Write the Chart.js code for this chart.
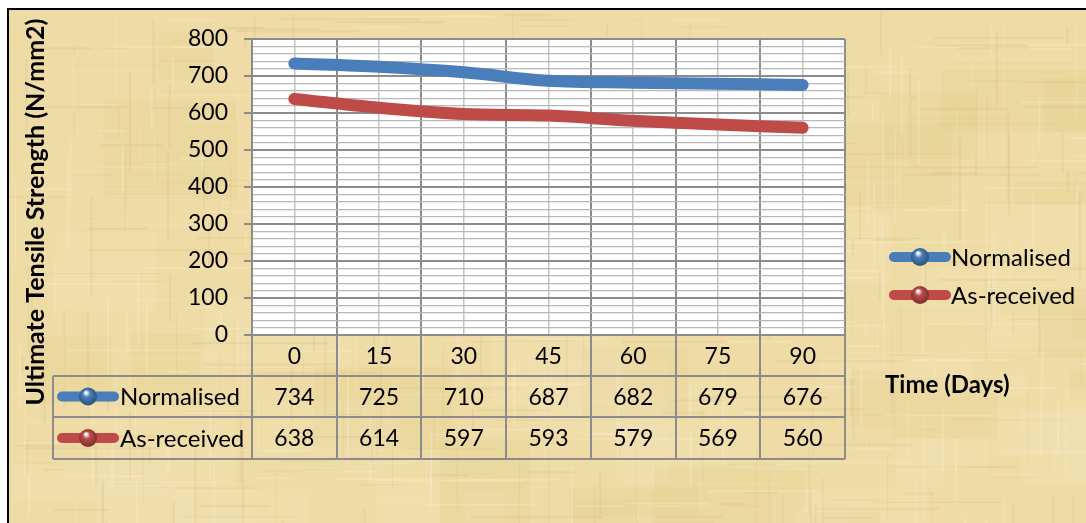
<!DOCTYPE html>
<html>
<head>
<meta charset="utf-8">
<script src="https://cdn.jsdelivr.net/npm/chart.js@4/dist/chart.umd.min.js"></script>
<style>
  html, body { margin: 0; padding: 0; background: #fff; overflow: hidden; }
  canvas { display: block; }
</style>
</head>
<body>
<canvas id="c" width="1086" height="523"></canvas>
<script>
// Tensile strength over storage time
const days = ['0', '15', '30', '45', '60', '75', '90'];
const normalised = [734, 725, 710, 687, 682, 679, 676];
const asReceived = [638, 614, 597, 593, 579, 569, 560];
const seriesNames = ['Normalised', 'As-received'];
const yAxisTitle = 'Ultimate Tensile Strength (N/mm2)';
const xAxisTitle = 'Time (Days)';

const FONT = 'Lato, "Liberation Sans", sans-serif';
const LINE_GREY = '#8c8c8c';
const BLUE = '#4a7ebb';
const RED = '#be4b48';

// cheap deterministic hash for the paper grain
function grain(i) {
  const s = Math.sin(i * 12.9898 + 78.233) * 43758.5453;
  return s - Math.floor(s);
}

function paintParchment(ctx, x0, y0, w, h) {
  ctx.fillStyle = '#eedba5';
  ctx.fillRect(x0, y0, w, h);
  // soft tone patches
  for (let i = 0; i < 80; i++) {
    const px = x0 + grain(i) * w, py = y0 + grain(i + 300) * h;
    const pw = 40 + grain(i + 600) * 120, ph = 20 + grain(i + 900) * 80;
    ctx.fillStyle = grain(i + 1200) > 0.5 ? 'rgba(246,232,196,0.18)' : 'rgba(222,198,130,0.14)';
    ctx.fillRect(px, py, pw, ph);
  }
  // fibres
  for (let i = 0; i < 700; i++) {
    const light = grain(i + 2000) > 0.5;
    ctx.fillStyle = light ? 'rgba(250,240,212,0.28)' : 'rgba(200,175,110,0.16)';
    if (i % 2 === 0) {
      const py = y0 + grain(i + 3000) * h;
      const px = x0 + grain(i + 4000) * w;
      ctx.fillRect(px, py, 20 + grain(i + 5000) * 120, 1 + Math.round(grain(i + 6000)));
    } else {
      const px = x0 + grain(i + 3000) * w;
      const py = y0 + grain(i + 4000) * h;
      ctx.fillRect(px, py, 1 + Math.round(grain(i + 6000)), 15 + grain(i + 5000) * 90);
    }
  }
}

function shade(hex) {
  const n = parseInt(hex.slice(1), 16);
  const r = Math.round(((n >> 16) & 255) * 0.6);
  const g = Math.round(((n >> 8) & 255) * 0.6);
  const b = Math.round((n & 255) * 0.6);
  return `rgb(${r},${g},${b})`;
}

function drawKey(ctx, x0, x1, y, color) {
  ctx.save();
  ctx.strokeStyle = color;
  ctx.lineWidth = 10;
  ctx.lineCap = 'round';
  ctx.beginPath();
  ctx.moveTo(x0 + 5, y);
  ctx.lineTo(x1 - 5, y);
  ctx.stroke();
  const cx = (x0 + x1) / 2;
  const g = ctx.createRadialGradient(cx - 2, y - 4, 1, cx, y, 10);
  g.addColorStop(0, '#f4f8ff');
  g.addColorStop(0.3, color);
  g.addColorStop(1, shade(color));
  ctx.fillStyle = g;
  ctx.beginPath();
  ctx.arc(cx, y, 9, 0, Math.PI * 2);
  ctx.fill();
  ctx.restore();
}

const backdrop = {
  id: 'backdrop',
  beforeDraw(chart) {
    const { ctx, chartArea: a, width, height } = chart;
    ctx.save();
    ctx.fillStyle = '#ffffff';
    ctx.fillRect(0, 0, width, height);
    paintParchment(ctx, 8, 9, width - 8, height - 9);
    ctx.strokeStyle = '#000';
    ctx.lineWidth = 2;
    ctx.beginPath();
    ctx.moveTo(8, height);
    ctx.lineTo(8, 9);
    ctx.lineTo(width, 9);
    ctx.stroke();
    ctx.fillStyle = '#ffffff';
    ctx.fillRect(a.left, a.top, a.right - a.left, a.bottom - a.top);
    ctx.restore();
  }
};

const dataTable = {
  id: 'dataTable',
  afterDraw(chart) {
    const { ctx, chartArea: a } = chart;
    const xs = chart.scales.x;
    const n = days.length;
    const cw = (a.right - a.left) / n;
    const keyLeft = 53;
    const rowTops = [a.bottom, a.bottom + 41, a.bottom + 82, a.bottom + 124];
    ctx.save();
    ctx.strokeStyle = LINE_GREY;
    ctx.lineWidth = 2;
    ctx.beginPath();
    for (let i = 0; i <= n; i++) {
      const bx = Math.round(a.left + i * cw);
      ctx.moveTo(bx, a.bottom);
      ctx.lineTo(bx, rowTops[3]);
    }
    ctx.moveTo(keyLeft, rowTops[1]);
    ctx.lineTo(keyLeft, rowTops[3]);
    for (let r = 1; r <= 3; r++) {
      ctx.moveTo(keyLeft, rowTops[r]);
      ctx.lineTo(a.right, rowTops[r]);
    }
    ctx.stroke();

    ctx.fillStyle = '#000';
    ctx.font = '23px ' + FONT;
    ctx.textBaseline = 'middle';
    ctx.textAlign = 'center';
    const rows = [normalised, asReceived];
    for (let i = 0; i < n; i++) {
      const cx = xs.getPixelForValue(i);
      ctx.fillText(days[i], cx, (rowTops[0] + rowTops[1]) / 2 + 1);
      rows.forEach((vals, r) => {
        ctx.fillText(String(vals[i]), cx, (rowTops[r + 1] + rowTops[r + 2]) / 2 + 1);
      });
    }
    ctx.font = '24px ' + FONT;
    // series keys inside the table
    chart.data.datasets.forEach((ds, r) => {
      const cy = (rowTops[r + 1] + rowTops[r + 2]) / 2;
      drawKey(ctx, 57, 119, cy, ds.borderColor);
      ctx.textAlign = 'left';
      ctx.fillStyle = '#000';
      ctx.fillText(ds.label, 120, cy + 1);
    });
    // legend on the right
    chart.data.datasets.forEach((ds, r) => {
      const cy = 257 + r * 38;
      drawKey(ctx, 889, 951, cy, ds.borderColor);
      ctx.textAlign = 'left';
      ctx.fillStyle = '#000';
      ctx.fillText(ds.label, 951, cy + 1);
    });
    // axis titles
    ctx.font = 'bold 24px ' + FONT;
    ctx.textAlign = 'left';
    ctx.fillText(xAxisTitle, 885, 385);
    ctx.translate(36, 212);
    ctx.rotate(-Math.PI / 2);
    ctx.textAlign = 'center';
    ctx.font = 'bold 25px ' + FONT;
    ctx.fillText(yAxisTitle, 0, 0);
    ctx.restore();
  }
};

new Chart(document.getElementById('c'), {
  type: 'line',
  data: {
    labels: days,
    datasets: [
      { label: seriesNames[0], data: normalised, borderColor: BLUE, backgroundColor: BLUE },
      { label: seriesNames[1], data: asReceived, borderColor: RED, backgroundColor: RED }
    ]
  },
  options: {
    responsive: false,
    animation: false,
    devicePixelRatio: 1,
    layout: { padding: { left: 0, top: 39, right: 241, bottom: 0 } },
    elements: {
      line: { borderWidth: 12, tension: 0.35, borderCapStyle: 'round', borderJoinStyle: 'round', fill: false },
      point: { radius: 0, hoverRadius: 0 }
    },
    plugins: { legend: { display: false }, tooltip: { enabled: false } },
    scales: {
      x: {
        type: 'category',
        offset: true,
        grid: { offset: true, color: LINE_GREY, lineWidth: 2, drawTicks: false },
        border: { display: false },
        ticks: { display: false },
        afterFit(s) { s.height = 188; }
      },
      x2: {
        type: 'category',
        labels: days,
        position: 'bottom',
        offset: true,
        grid: { offset: false, color: '#c4c4c4', lineWidth: 1.5, drawTicks: false },
        border: { display: false },
        ticks: { display: false },
        afterFit(s) { s.height = 0; }
      },
      y: {
        min: 0,
        max: 800,
        grid: {
          color: c => (c.tick && c.tick.value % 100 === 0) ? LINE_GREY : '#b8b8b8',
          lineWidth: c => (c.tick && c.tick.value % 100 === 0) ? 2 : 1.2,
          tickColor: c => (c.tick && c.tick.value % 100 === 0) ? LINE_GREY : 'rgba(0,0,0,0)',
          tickLength: 8
        },
        border: { color: LINE_GREY, width: 2 },
        ticks: {
          stepSize: 20,
          autoSkip: false,
          padding: 16,
          color: '#000',
          font: { family: FONT, size: 23 },
          callback: v => (v % 100 === 0 ? String(v) : '')
        },
        afterFit(s) { s.width = 252; }
      }
    }
  },
  plugins: [backdrop, dataTable]
});
</script>
</body>
</html>
